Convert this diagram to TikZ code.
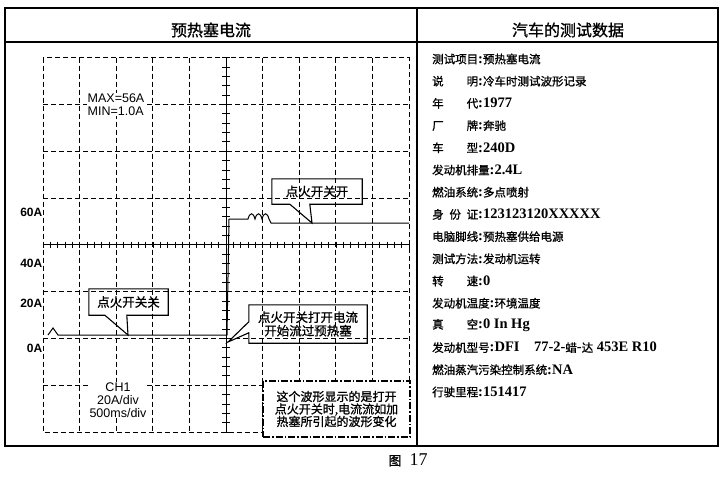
\documentclass[tikz,border=0pt]{standalone}
\usepackage{fontspec}
\newfontfamily\cjk{Noto Sans CJK SC}[FakeBold=1]
\newfontfamily\arial{Liberation Sans}
\newfontfamily\tms{Liberation Serif}
\usetikzlibrary{
  calc,
  positioning,
}
\tikzset{
  grid line/.style={dash pattern=on 5pt off 3pt, line width=0.7pt},
  callout line/.style={line width=1.1pt, line join=miter},
  callout text/.style={inner sep=0pt, align=center, font=\cjk\fontsize{12.5}{13.5}\selectfont},
  note box/.style={draw, fill=white, line width=1.4pt, dash pattern=on 7pt off 2pt on 1.5pt off 2pt,
    align=center, inner sep=0pt, font=\cjk\fontsize{12}{12.5}\selectfont},
  datarow/.style={anchor=west, inner sep=0pt, font=\cjk\fontsize{11.5}{13}\selectfont},
  level/.style={anchor=east, inner sep=0.5pt, font=\arial\bfseries\fontsize{12}{14}\selectfont},
  scope text/.style={align=center, inner sep=1pt, fill=white, font=\arial\fontsize{12.5}{13}\selectfont},
  title/.style={font=\cjk\fontsize{16}{18}\selectfont},
}
\newcommand{\lat}[1]{{\tms\bfseries\fontsize{14.5}{14}\selectfont #1}}
\newcommand{\spread}[1]{\makebox[46pt][s]{#1}}

\begin{document}
\begin{tikzpicture}[x=1pt, y=-1pt]
  \useasboundingbox (0, 0) rectangle (725, 477);

  % frame
  \draw [line width=1.6pt] (5, 8) rectangle (718, 446);
  \draw [line width=1.2pt] (5, 42) -- (718, 42);
  \draw [line width=1.2pt] (417, 8) -- (417, 446);
  \node [title] (lefttitle) at (211, 30) {预热塞电流};
  \node [title] (righttitle) at (568, 30) {汽车的测试数据};

  % scope screen
  \draw [grid line] (43, 57.5) rectangle (409, 432);
  \foreach \i in {1, ..., 9}
  {
    \draw [grid line] (43 + 36.6 * \i, 57.5) -- ++(0, 374.5);
  }
  \foreach \j in {1, ..., 7}
  {
    \draw [grid line] (43, 57.5 + 46.8 * \j) -- ++(366, 0);
  }
  \draw [line width=0.6pt] (226, 57.5) -- (226, 432);
  \draw [line width=0.6pt] (43, 244.7) -- (409, 244.7);
  \foreach \k in {0, ..., 50}
  {
    \draw [line width=0.5pt] (43 + 7.32 * \k, 241.7) -- ++(0, 6);
  }
  \foreach \k in {0, ..., 40}
  {
    \draw [line width=0.5pt] (222, 57.5 + 9.36 * \k) -- ++(8, 0);
  }

  \node [level] (l60) at (43, 212) {60A};
  \node [level] (l40) at (43, 263) {40A};
  \node [level] (l20) at (43, 303) {20A};
  \node [level] (l0) at (43, 348) {0A};
  \node [scope text, align=left] (maxmin) at (116, 104.5) {MAX=56A\\MIN=1.0A};
  \node [scope text] (channel) at (118, 400) {CH1\\20A/div\\500ms/div};

  % trace
  \coordinate (tipoff) at (128, 335);
  \coordinate (tipstart) at (228, 342);
  \coordinate (tipon) at (312, 223);
  \draw [line width=1pt] (48, 335) -- (53, 328) -- (58, 335) -- (tipoff) -- (227, 335) -- (229, 219) -- (248, 219)
    .. controls (250, 212) and (253, 212) .. (255, 219)
    .. controls (257, 212) and (260, 212) .. (262, 219)
    .. controls (264, 212) and (267, 212) .. (269, 219)
    -- (271, 223) -- (tipon) -- (409, 223);

  % callouts
  \node [callout text, minimum width=90pt, minimum height=25pt] (swon) at (317, 191.5) {点火开关开};
  \draw [callout line] (swon.north west) -- (swon.north east) -- (swon.south east)
    -- ($(swon.south west) + (38, 0)$) -- (tipon) -- ($(swon.south west) + (18, 0)$) -- (swon.south west) -- cycle;

  \node [callout text, minimum width=79pt, minimum height=26pt] (swoff) at (128.5, 302) {点火开关关};
  \draw [callout line] (swoff.north west) -- (swoff.north east) -- (swoff.south east)
    -- ($(swoff.south west) + (38, 0)$) -- (tipoff) -- ($(swoff.south west) + (16, 0)$) -- (swoff.south west) -- cycle;

  \node [callout text, minimum width=118pt, minimum height=38pt] (flow) at (308, 324) {点火开关打开电流\\开始流过预热塞};
  \draw [callout line] (flow.north west) -- (flow.north east) -- (flow.south east) -- (flow.south west)
    -- ($(flow.north west) + (0, 28)$) -- (tipstart) -- ($(flow.north west) + (0, 17)$) -- cycle;

  \node [note box, minimum width=147pt, minimum height=56pt] (note) at (336.5, 409)
    {这个波形显示的是打开\\点火开关时,电流流如加\\热塞所引起的波形变化};

  % test data
  \foreach \rowtext [count=\i from 0] in {
    {测试项目\lat{:}预热塞电流},
    {\spread{说\hfill 明}\lat{:}冷车时测试波形记录},
    {\spread{年\hfill 代}\lat{:1977}},
    {\spread{厂\hfill 牌}\lat{:}奔驰},
    {\spread{车\hfill 型}\lat{:240D}},
    {发动机排量\lat{:2.4L}},
    {燃油系统\lat{:}多点喷射},
    {\spread{身\hfill 份\hfill 证}\lat{:123123120XXXXX}},
    {电脑脚线\lat{:}预热塞供给电源},
    {测试方法\lat{:}发动机运转},
    {\spread{转\hfill 速}\lat{:0}},
    {发动机温度\lat{:}环境温度},
    {\spread{真\hfill 空}\lat{:0 In Hg}},
    {发动机型号\lat{:DFI\quad 77-2-}蜡\lat{-}达\lat{~453E R10}},
    {燃油蒸汽污染控制系统\lat{:NA}},
    {行驶里程\lat{:151417}}
  }
  {
    \node [datarow] (row\i) at (432, 59 + 22.2 * \i) {\rowtext};
  }

  \node (caption) at (408, 460) {{\cjk\fontsize{13}{14}\selectfont 图}\hspace{8pt}{\tms\fontsize{18}{18}\selectfont 17}};
\end{tikzpicture}
\end{document}
